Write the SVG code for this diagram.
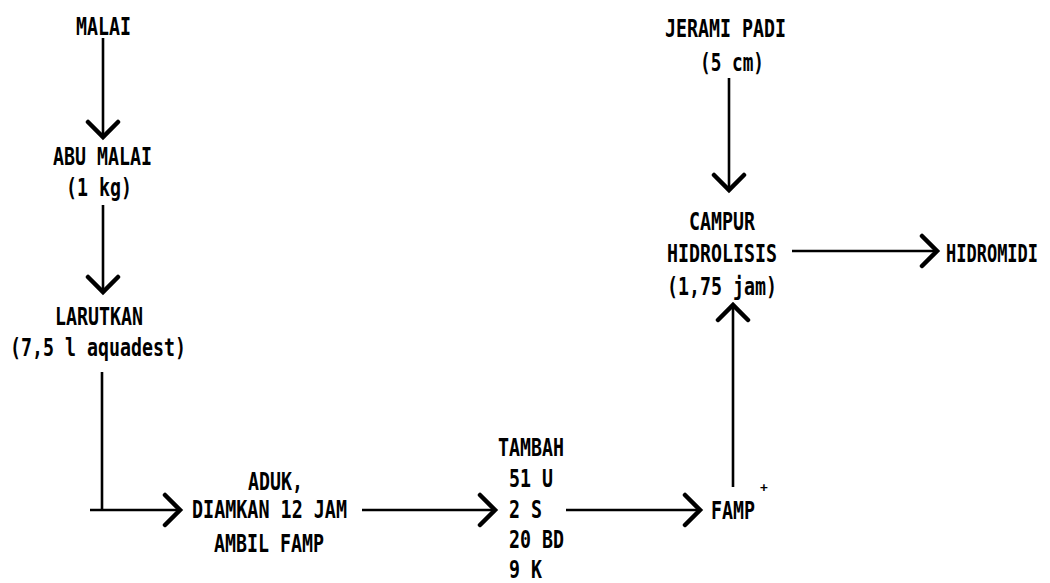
<svg xmlns="http://www.w3.org/2000/svg" width="1050" height="583" viewBox="0 0 1050 583">
  <style>
    .t { font-family: "DejaVu Sans Mono", "Liberation Mono", monospace; font-size: 25px; font-weight: bold; fill: #000; }
    .sup { font-family: "DejaVu Sans Mono", "Liberation Mono", monospace; font-size: 13px; font-weight: bold; fill: #000; }
    .c { fill: none; stroke: #000; stroke-width: 2.6; }
  </style>
  <defs>
    <marker id="v" markerUnits="userSpaceOnUse" viewBox="-2 -2 22 38" refX="16" refY="16" markerWidth="22" markerHeight="38" orient="auto">
      <path d="M1,1 L16,16 L1,31" fill="none" stroke="#000" stroke-width="4.5" stroke-linecap="round" stroke-linejoin="miter"/>
    </marker>
  </defs>
  <rect width="1050" height="583" fill="#fff"/>

  <g id="connectors">
    <path class="c" d="M103,38 V137" marker-end="url(#v)"/>
    <path class="c" d="M103,205 V292" marker-end="url(#v)"/>
    <path class="c" d="M102,372 V510 M90,510 H180" marker-end="url(#v)"/>
    <path class="c" d="M362,510 H495" marker-end="url(#v)"/>
    <path class="c" d="M566,510 H700" marker-end="url(#v)"/>
    <path class="c" d="M733,487 V305" marker-end="url(#v)"/>
    <path class="c" d="M729,78 V190" marker-end="url(#v)"/>
    <path class="c" d="M792,251 H937" marker-end="url(#v)"/>
  </g>

  <g id="malai">
    <text class="t" x="76" y="35" textLength="55" lengthAdjust="spacingAndGlyphs">MALAI</text>
  </g>
  <g id="abu-malai">
    <text class="t" x="53" y="165" textLength="99" lengthAdjust="spacingAndGlyphs">ABU MALAI</text>
    <text class="t" x="66" y="196" textLength="66" lengthAdjust="spacingAndGlyphs">(1 kg)</text>
  </g>
  <g id="larutkan">
    <text class="t" x="55" y="325" textLength="88" lengthAdjust="spacingAndGlyphs">LARUTKAN</text>
    <text class="t" x="10" y="356" textLength="176" lengthAdjust="spacingAndGlyphs">(7,5 l aquadest)</text>
  </g>
  <g id="aduk">
    <text class="t" x="248" y="490" textLength="55" lengthAdjust="spacingAndGlyphs">ADUK,</text>
    <text class="t" x="192" y="518" textLength="155" lengthAdjust="spacingAndGlyphs">DIAMKAN 12 JAM</text>
    <text class="t" x="214" y="552" textLength="110" lengthAdjust="spacingAndGlyphs">AMBIL FAMP</text>
  </g>
  <g id="tambah">
    <text class="t" x="498" y="456" textLength="66" lengthAdjust="spacingAndGlyphs">TAMBAH</text>
    <text class="t" x="509" y="487" textLength="44" lengthAdjust="spacingAndGlyphs">51 U</text>
    <text class="t" x="509" y="518" textLength="33" lengthAdjust="spacingAndGlyphs">2 S</text>
    <text class="t" x="509" y="548" textLength="55" lengthAdjust="spacingAndGlyphs">20 BD</text>
    <text class="t" x="509" y="578" textLength="33" lengthAdjust="spacingAndGlyphs">9 K</text>
  </g>
  <g id="famp">
    <text class="t" x="711" y="519" textLength="44" lengthAdjust="spacingAndGlyphs">FAMP</text>
    <text class="sup" x="760" y="492">+</text>
  </g>
  <g id="jerami">
    <text class="t" x="665" y="37" textLength="121" lengthAdjust="spacingAndGlyphs">JERAMI PADI</text>
    <text class="t" x="700" y="71" textLength="64" lengthAdjust="spacingAndGlyphs">(5 cm)</text>
  </g>
  <g id="campur">
    <text class="t" x="689" y="230" textLength="66" lengthAdjust="spacingAndGlyphs">CAMPUR</text>
    <text class="t" x="667" y="262" textLength="110" lengthAdjust="spacingAndGlyphs">HIDROLISIS</text>
    <text class="t" x="667" y="295" textLength="110" lengthAdjust="spacingAndGlyphs">(1,75 jam)</text>
  </g>
  <g id="hidromidi" transform="translate(946,262) scale(0.68,1)">
    <text class="t" x="0" y="0">HIDROMIDI</text>
  </g>
</svg>
